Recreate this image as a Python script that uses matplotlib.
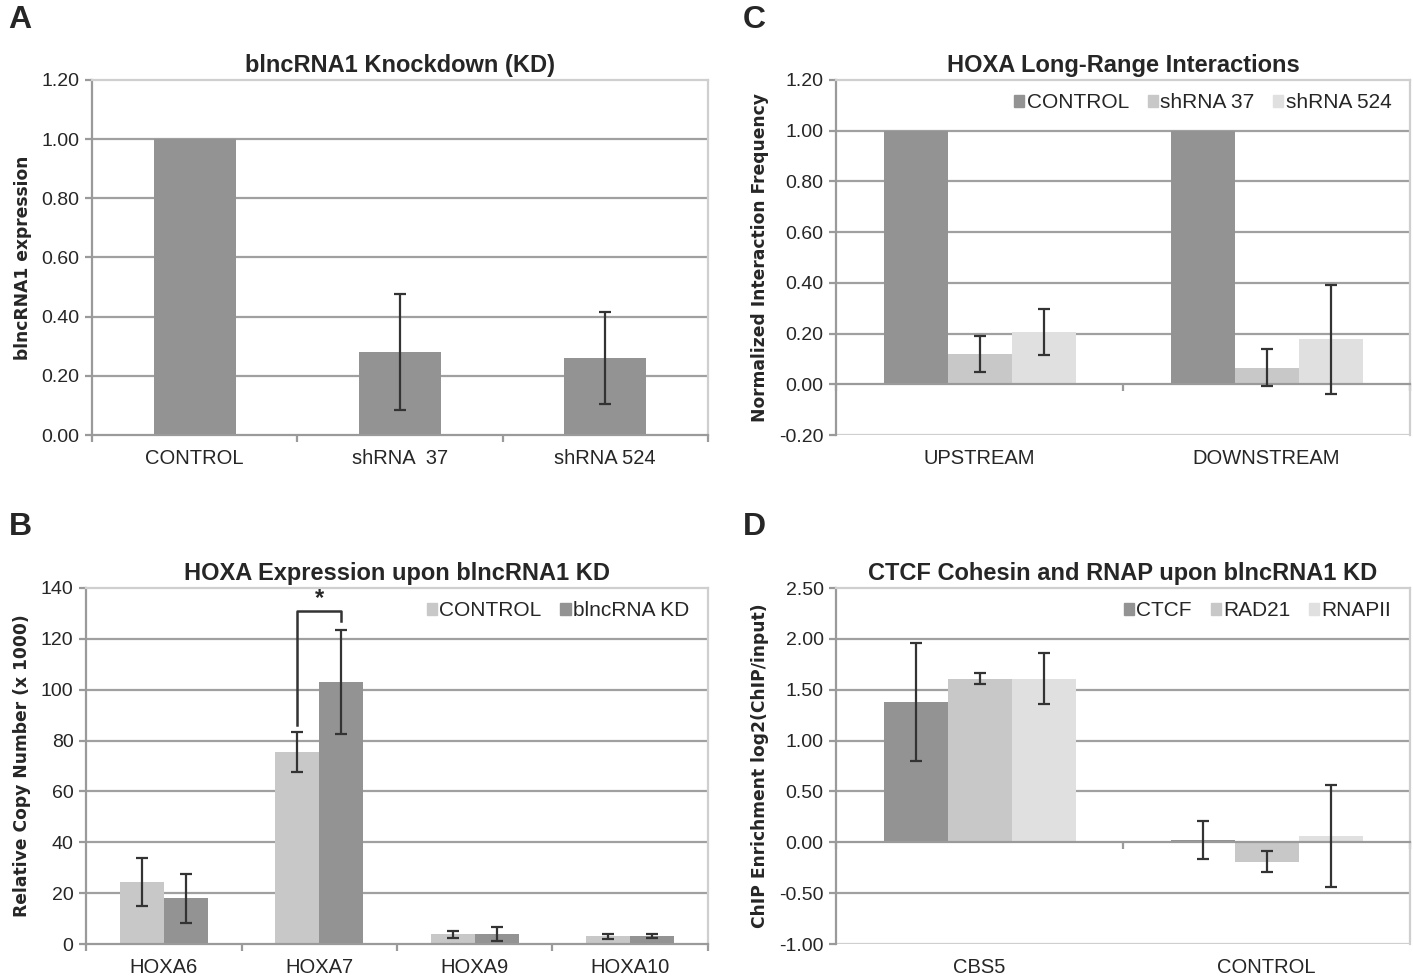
import matplotlib
matplotlib.use("Agg")
import matplotlib.pyplot as plt
import matplotlib.transforms as mtransforms
from matplotlib.patches import Patch
import numpy as np

plt.rcParams['font.family'] = ['Liberation Sans', 'DejaVu Sans']

DARK = '#939393'
MID = '#c8c8c8'
LIGHT = '#e0e0e0'
TXT = '#262626'

# panel A
a_cats = ['CONTROL', 'shRNA  37', 'shRNA 524']
a_vals = [1.00, 0.28, 0.26]
a_err = [0.0, 0.195, 0.155]
a_ticks = [0.0, 0.2, 0.4, 0.6, 0.8, 1.0, 1.2]

# panel B
b_cats = ['HOXA6', 'HOXA7', 'HOXA9', 'HOXA10']
b_series = ['CONTROL', 'blncRNA KD']
b_ctrl = [24.5, 75.5, 3.8, 3.0]
b_ctrl_err = [9.5, 8.0, 1.3, 1.1]
b_kd = [18.0, 103.0, 4.0, 3.2]
b_kd_err = [9.7, 20.5, 2.8, 0.9]
b_ticks = [0, 20, 40, 60, 80, 100, 120, 140]

# panel C
c_cats = ['UPSTREAM', 'DOWNSTREAM']
c_series = ['CONTROL', 'shRNA 37', 'shRNA 524']
c_ctrl = [1.00, 1.00]
c_ctrl_err = [0.0, 0.0]
c_sh37 = [0.12, 0.065]
c_sh37_err = [0.07, 0.073]
c_sh524 = [0.205, 0.178]
c_sh524_err = [0.09, 0.215]
c_ticks = [-0.2, 0.0, 0.2, 0.4, 0.6, 0.8, 1.0, 1.2]

# panel D
d_cats = ['CBS5', 'CONTROL']
d_series = ['CTCF', 'RAD21', 'RNAPII']
d_ctcf = [1.38, 0.02]
d_ctcf_err = [0.58, 0.185]
d_rad21 = [1.61, -0.19]
d_rad21_err = [0.055, 0.10]
d_rnap = [1.61, 0.06]
d_rnap_err = [0.25, 0.50]
d_ticks = [-1.0, -0.5, 0.0, 0.5, 1.0, 1.5, 2.0, 2.5]


def panel(ax, cats, series, colors, width, ticks, fmt, title, ylabel,
          names=None):
    n = len(series)
    x = np.arange(len(cats))
    for i, (vals, errs) in enumerate(series):
        pos = x + (i - (n - 1) / 2) * width
        ax.bar(pos, vals, width, color=colors[i], zorder=2)
        keep = np.array(errs) > 0
        if keep.any():
            ax.errorbar(pos[keep], np.array(vals)[keep],
                        yerr=np.array(errs)[keep], fmt='none',
                        ecolor='#333333', elinewidth=1.6, capsize=4.5,
                        capthick=1.6, zorder=4)
    ax.set_xlim(-0.5, len(cats) - 0.5)
    ax.set_ylim(ticks[0], ticks[-1])
    ax.set_yticks(ticks)
    ax.set_yticklabels([fmt.format(t) for t in ticks], fontsize=14, color=TXT)
    for t in ticks[1:-1]:
        if t != 0:
            ax.axhline(t, color='#a0a0a0', lw=1.6, zorder=1)
    for s in ['top', 'right']:
        ax.spines[s].set_color('#cfcfcf')
        ax.spines[s].set_linewidth(1.6)
    ax.spines['left'].set_color('#9a9a9a')
    ax.spines['left'].set_linewidth(1.6)
    ax.spines['bottom'].set_position(('data', 0))
    ax.spines['bottom'].set_color('#9a9a9a')
    ax.spines['bottom'].set_linewidth(1.6)
    ax.spines['bottom'].set_zorder(3)
    if ticks[0] < 0:
        ax.axhline(ticks[0], color='#cfcfcf', lw=1.6, zorder=1)
    ax.set_xticks(np.arange(len(cats) + 1) - 0.5)
    ax.set_xticklabels([])
    ax.tick_params(axis='x', length=5, width=1.6, color='#9a9a9a',
                   direction='out')
    ax.tick_params(axis='y', length=5, width=1.6, color='#9a9a9a', pad=4)
    trans = mtransforms.blended_transform_factory(ax.transData, ax.transAxes)
    for xi, c in zip(x, cats):
        ax.text(xi, -0.04, c, transform=trans, ha='center', va='top',
                fontsize=14.5, color=TXT)
    ax.set_title(title, fontsize=17, fontweight='bold', color=TXT, pad=6)
    ax.set_ylabel(ylabel, fontsize=12.3, fontweight='bold', color=TXT,
                  family='DejaVu Sans', labelpad=7)
    if names:
        handles = [Patch(color=colors[i]) for i in range(n)]
        ax.legend(handles, names, loc='upper right', ncol=n, frameon=False,
                  fontsize=15, handlelength=0.5, handleheight=0.5,
                  handletextpad=0.1, columnspacing=0.9,
                  bbox_to_anchor=(1.0, 1.015), labelcolor=TXT)


fig = plt.figure(figsize=(14.13, 9.8), dpi=100)
axA = fig.add_axes([0.0651, 0.5561, 0.4359, 0.3623])
axC = fig.add_axes([0.5917, 0.5561, 0.4062, 0.3623])
axB = fig.add_axes([0.0609, 0.0367, 0.4401, 0.3633])
axD = fig.add_axes([0.5917, 0.0367, 0.4062, 0.3633])

panel(axA, a_cats, [(a_vals, a_err)], [DARK], 0.4, a_ticks, '{:.2f}',
      'blncRNA1 Knockdown (KD)', 'blncRNA1 expression')

panel(axB, b_cats, [(b_ctrl, b_ctrl_err), (b_kd, b_kd_err)], [MID, DARK],
      0.283, b_ticks, '{:.0f}', 'HOXA Expression upon blncRNA1 KD',
      'Relative Copy Number (x 1000)', names=b_series)

panel(axC, c_cats, [(c_ctrl, c_ctrl_err), (c_sh37, c_sh37_err),
                    (c_sh524, c_sh524_err)], [DARK, MID, LIGHT],
      0.223, c_ticks, '{:.2f}', 'HOXA Long-Range Interactions',
      'Normalized Interaction Frequency', names=c_series)

panel(axD, d_cats, [(d_ctcf, d_ctcf_err), (d_rad21, d_rad21_err),
                    (d_rnap, d_rnap_err)], [DARK, MID, LIGHT],
      0.223, d_ticks, '{:.2f}', 'CTCF Cohesin and RNAP upon blncRNA1 KD',
      'ChIP Enrichment log2(ChIP/input)', names=d_series)

# significance bracket on HOXA7
w = 0.283
x7 = 1
axB.plot([x7 - w / 2, x7 - w / 2, x7 + w / 2, x7 + w / 2],
         [86, 131, 131, 127], color='#333333', lw=1.8, zorder=5)
axB.text(x7, 131.5, '*', ha='center', va='bottom', fontsize=17,
         fontweight='bold', color=TXT)

for lbl, xx, yy in [('A', 0.006, 0.995), ('C', 0.526, 0.995),
                    ('B', 0.006, 0.478), ('D', 0.526, 0.478)]:
    fig.text(xx, yy, lbl, fontsize=23, fontweight='bold', color=TXT,
             ha='left', va='top')

fig.savefig('out.png', dpi=100)
